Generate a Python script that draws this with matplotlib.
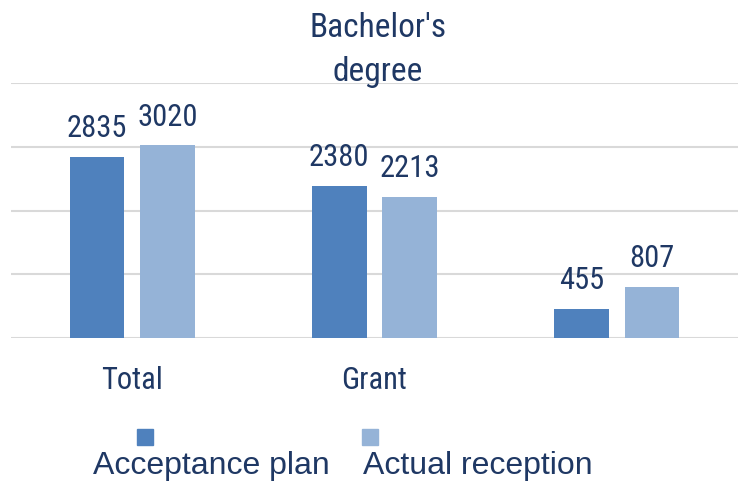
import matplotlib.pyplot as plt
import numpy as np
from matplotlib.patches import Rectangle

# ===== データ
categories = ["Total", "Grant", ""]
plan = [2835, 2380, 455]
actual = [3020, 2213, 807]
series_names = ["Acceptance plan", "Actual reception"]
title = "Bachelor's\ndegree"

DARK = "#4F81BD"
LIGHT = "#95B3D7"
NAVY = "#1F3864"
GRID = "#D9D9D9"

NARROW = ["Roboto Condensed", "Liberation Sans"]
REGULAR = ["Liberation Sans", "DejaVu Sans"]


def main():
    fig = plt.figure(figsize=(7.38, 4.83), dpi=100)
    ax = fig.add_axes([11 / 738, 145 / 483, 727 / 738, 255 / 483])

    x = np.arange(len(categories))
    w = 0.226
    off = 0.145
    b1 = ax.bar(x - off, plan, w, color=DARK, zorder=3)
    b2 = ax.bar(x + off, actual, w, color=LIGHT, zorder=3)

    # データラベル
    for bars, vals in ((b1, plan), (b2, actual)):
        for rect, v in zip(bars, vals):
            ax.annotate(str(v), (rect.get_x() + rect.get_width() / 2, v),
                        xytext=(0, 10), textcoords="offset points",
                        ha="center", va="bottom", fontsize=22,
                        color=NAVY, family=NARROW)

    ax.set_xlim(-0.5, len(categories) - 0.5)
    ax.set_ylim(0, 4000)
    ax.set_yticks(range(0, 4001, 1000))
    ax.yaxis.grid(True, color=GRID, linewidth=1.5, zorder=0)
    ax.tick_params(axis="y", left=False, labelleft=False)
    ax.set_xticks(x)
    ax.set_xticklabels(categories, fontsize=22, color=NAVY, family=NARROW)
    ax.tick_params(axis="x", bottom=False, pad=17)
    for s in ax.spines.values():
        s.set_visible(False)

    # タイトル
    fig.text(378 / 738, 1 - 50 / 483, title, ha="center", va="center",
             fontsize=24, color=NAVY, family=NARROW, linespacing=1.45)

    # 凡例(手描き)
    for (sx, tx), name, c in zip(((137, 93), (362, 363)), series_names, (DARK, LIGHT)):
        fig.patches.append(Rectangle((sx / 738, 1 - 445 / 483), 16 / 738, 16 / 483,
                                     transform=fig.transFigure, color=c))
        fig.text(tx / 738, 1 - 466 / 483, name, ha="left", va="center",
                 fontsize=23, color=NAVY, family=REGULAR)

    fig.savefig("out.png", dpi=100)


if __name__ == "__main__":
    main()
